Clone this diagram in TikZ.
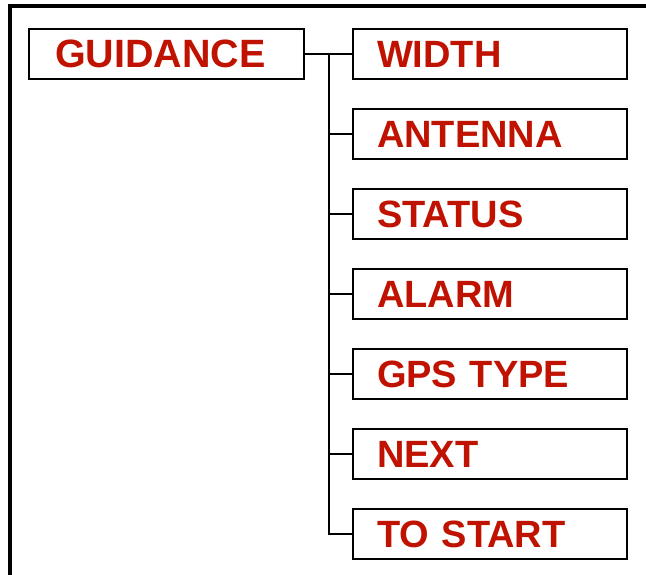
\documentclass[tikz,border=0pt]{standalone}
\usepackage{fontspec}
\setmainfont{Liberation Sans}
\usepackage{tikz}
\usetikzlibrary{
  calc,
  positioning
}
\definecolor{menured}{RGB}{192,18,0}

\begin{document}
\begin{tikzpicture}[x=1pt, y=-1pt,
  menubox/.style={draw, line width=2.2pt, rectangle, outer sep=0pt,
    minimum width=274pt, minimum height=50pt,
    text width=226pt, inner xsep=24pt, inner ysep=4pt, align=left,
    text height=27pt, text depth=0pt,
    font=\fontsize{38}{40}\selectfont\bfseries, text=menured},
  link/.style={line width=2pt},
  node distance=30pt]
  \useasboundingbox (0,0) rectangle (646,575);

  % Outer frame (open to the right and bottom)
  \draw[line width=3.2pt] (10,575) |- (646,6);

  % Main menu entry
  \node[menubox, inner xsep=26pt, text width=223pt,
    font=\fontsize{39.5}{41}\selectfont\bfseries] (guidance) at (166.5,54) {GUIDANCE};

  % Sub menu entries
  \node[menubox, right=49pt of guidance] (width) {WIDTH};
  \node[menubox, below=of width] (antenna) {ANTENNA};
  \node[menubox, below=of antenna] (status) {STATUS};
  \node[menubox, below=of status] (alarm) {ALARM};
  \node[menubox, below=of alarm] (gpstype) {GPS TYPE};
  \node[menubox, below=of gpstype] (next) {NEXT};
  \node[menubox, below=of next] (tostart) {TO START};

  % Tree connectors
  \coordinate (split) at ($(guidance.east)!0.5!(width.west)$);
  \draw[link] (guidance.east) -- (width.west);
  \draw[link] (split) |- (tostart.west);
  \foreach \n in {antenna,status,alarm,gpstype,next}
    \draw[link] (split |- \n.west) -- (\n.west);
\end{tikzpicture}
\end{document}
